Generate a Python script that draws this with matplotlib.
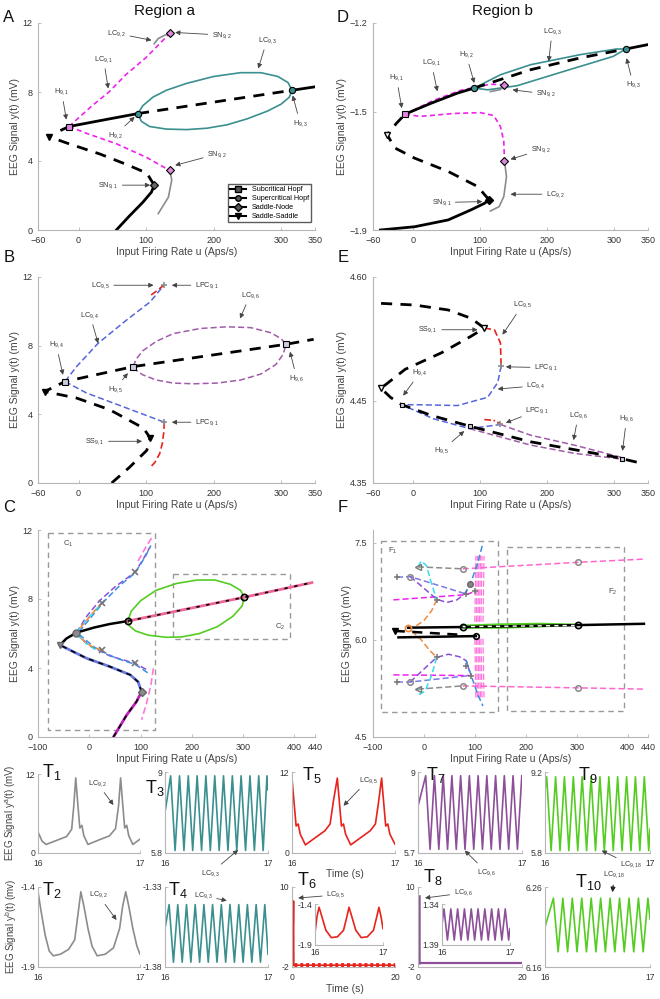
import matplotlib
matplotlib.use("Agg")
import matplotlib.pyplot as plt
from matplotlib.lines import Line2D

plt.rcParams["font.family"] = ["Liberation Sans", "DejaVu Sans"]
plt.rcParams["mathtext.fontset"] = "custom"
plt.rcParams["mathtext.rm"] = "Liberation Sans"
plt.rcParams["mathtext.it"] = "Liberation Sans:italic"

W, H = 660, 999

# ---------------- data ----------------
# Panel A (region a, y^a)
a_low_u = [56, 75, 95, 108, 112]; a_low_y = [0, 0.8, 1.6, 2.2, 2.6]
a_mid_u = [112, 101, 71, 32, -18, -43]; a_mid_y = [2.6, 3.3, 3.8, 4.4, 5.05, 5.4]
a_up_u = [-25, -14, 40, 88]; a_up_y = [5.8, 6.0, 6.4, 6.75]
a_uns_u = [88, 316]; a_uns_y = [6.75, 8.1]
a_top_u = [316, 350]; a_top_y = [8.1, 8.3]
a_lc3_u = [88, 95, 110, 130, 160, 200, 240, 270, 295, 310, 316,
           312, 300, 280, 250, 220, 190, 160, 130, 105, 93, 88]
a_lc3_y = [6.75, 7.2, 7.7, 8.1, 8.5, 8.9, 9.12, 9.12, 8.9, 8.55, 8.1,
           7.7, 7.3, 6.9, 6.45, 6.1, 5.9, 5.82, 5.85, 6.0, 6.3, 6.75]
a_lc1u_u = [-14, 0, 20, 45, 70, 100, 120, 135]; a_lc1u_y = [6.0, 6.5, 7.2, 8.0, 9.0, 10.0, 10.8, 11.4]
a_lc1l_u = [-14, 12, 56, 101, 135]; a_lc1l_y = [6.0, 5.6, 5.0, 4.2, 3.45]
a_lc2u_u = [112, 118, 128, 135]; a_lc2u_y = [10.8, 11.1, 11.3, 11.4]
a_lc2l_u = [135, 138, 133, 118]; a_lc2l_y = [3.45, 2.9, 1.9, 0.95]

# Panel D (region b, y^b)
d_low_u = [-49, 2, 52, 86, 106, 113]; d_low_y = [-1.9, -1.889, -1.866, -1.832, -1.81, -1.798]
d_mid_u = [113, 96, 52, 2, -27, -39, -25, -12]
d_mid_y = [-1.798, -1.753, -1.702, -1.657, -1.623, -1.578, -1.539, -1.508]
d_up_u = [-12, 27, 66, 91]; d_up_y = [-1.508, -1.471, -1.437, -1.42]
d_uns_u = [91, 175, 249, 317]; d_uns_y = [-1.42, -1.358, -1.318, -1.288]
d_top_u = [317, 350]; d_top_y = [-1.288, -1.273]
d_lc3_u = [91, 130, 175, 249, 303, 317, 298, 224, 155, 111, 91]
d_lc3_y = [-1.42, -1.375, -1.341, -1.307, -1.288, -1.288, -1.313, -1.364, -1.412, -1.426, -1.42]
d_lc1u_u = [-12, 30, 70, 91, 115, 136]; d_lc1u_y = [-1.508, -1.462, -1.428, -1.418, -1.407, -1.409]
d_lc1l_u = [-12, 10, 60, 100, 120, 130, 135, 136]
d_lc1l_y = [-1.508, -1.516, -1.506, -1.503, -1.513, -1.55, -1.6, -1.666]
d_lc2u_u = [115, 130, 136]; d_lc2u_y = [-1.432, -1.425, -1.409]
d_lc2l_u = [136, 139, 135, 128, 115]; d_lc2l_y = [-1.666, -1.72, -1.787, -1.821, -1.836]

# Panel B
b_eq_u = [49, 75, 101, 106, 96, 46, -3, -50, -20, 81, 307, 348]
b_eq_y = [0, 0.9, 1.9, 2.63, 3.2, 4.27, 4.95, 5.33, 5.91, 6.78, 8.08, 8.37]
b_lc4u_u = [-20, -3, 29, 71, 106, 127]; b_lc4u_y = [5.91, 6.78, 8.14, 9.49, 10.55, 11.55]
b_lc4l_u = [-20, 12, 71, 127]; b_lc4l_y = [5.91, 5.24, 4.37, 3.54]
b_lc5u_u = [127, 116, 105]; b_lc5u_y = [11.55, 11.2, 10.88]
b_lc5l_u = [127, 126, 124, 120, 113, 106]; b_lc5l_y = [3.54, 2.9, 2.3, 1.7, 1.2, 0.9]
b_lc6_u = [81, 85, 95, 115, 140, 180, 220, 255, 285, 300, 307,
           303, 292, 270, 240, 205, 170, 140, 115, 95, 84, 81]
b_lc6_y = [6.78, 7.2, 7.7, 8.25, 8.7, 9.0, 9.1, 9.05, 8.75, 8.4, 8.08,
           7.5, 6.9, 6.35, 6.0, 5.82, 5.78, 5.82, 6.0, 6.3, 6.6, 6.78]

# Panel E
e_eq_u = [-48, 2, 52, 86, 106, 86, 42, -12, -48, -34, -17, 27, 84, 175, 298, 340]
e_eq_y = [4.568, 4.566, 4.56, 4.55, 4.538, 4.528, 4.508, 4.488, 4.465, 4.454, 4.445,
          4.432, 4.419, 4.4, 4.382, 4.374]
e_lc5_u = [106, 121, 130, 131]; e_lc5_y = [4.538, 4.536, 4.52, 4.492]
e_lc4_u = [131, 126, 111, 66, 7, -17, 30, 84, 130]
e_lc4_y = [4.492, 4.472, 4.454, 4.444, 4.445, 4.445, 4.428, 4.416, 4.421]
e_lc5b_u = [106, 120, 130]; e_lc5b_y = [4.427, 4.426, 4.422]
e_lc6a_u = [130, 175, 240, 311]; e_lc6a_y = [4.421, 4.408, 4.396, 4.381]
e_lc6b_u = [84, 175, 240, 311]; e_lc6b_y = [4.416, 4.396, 4.386, 4.379]

# Panel C (overlay of both regions)
c_low_u = [47, 73, 92, 102]; c_low_y = [0, 1.28, 2.05, 2.63]
c_mid_u = [102, 95, 80, 40, -5, -35, -57]; c_mid_y = [2.63, 3.2, 3.6, 4.08, 4.56, 5.0, 5.33]
c_up_u = [-57, -45, -25, 10, 40, 75]; c_up_y = [5.33, 5.7, 6.05, 6.35, 6.55, 6.72]
c_uns_u = [75, 302, 434]; c_uns_y = [6.72, 8.1, 8.95]
c_green_u = [75, 82, 100, 130, 170, 210, 245, 275, 295, 302,
             298, 280, 250, 215, 180, 150, 115, 90, 78, 75]
c_green_y = [6.72, 7.3, 7.9, 8.5, 8.9, 9.1, 9.1, 8.85, 8.5, 8.1,
             7.6, 7.0, 6.4, 6.0, 5.8, 5.78, 5.9, 6.15, 6.45, 6.72]
c_purp_u = [-25, -5, 20, 50, 89, 105, 118, None, -25, 0, 40, 89, 112]
c_purp_y = [6.05, 7.0, 7.9, 8.7, 9.55, 10.3, 11.0, None, 6.0, 5.3, 4.7, 4.27, 3.9]
c_blue_u = [-20, 5, 30, 60, 89, 110, 120, None, -20, 10, 50, 90, 115]
c_blue_y = [6.1, 7.0, 7.9, 8.8, 9.5, 10.5, 11.1, None, 5.95, 5.2, 4.6, 4.2, 3.7]
c_mag_u = [95, 110, 125, None, 125, 120, 112, 102]
c_mag_y = [10.2, 11.0, 11.7, None, 3.98, 3.0, 2.0, 1.0]
c_cyan_u = [-25, -5, 10, 24, None, -25, -5, 10, 24]
c_cyan_y = [6.05, 6.8, 7.3, 7.75, None, 5.95, 5.4, 5.1, 5.04]
c_orng_u = [-25, -10, 10, 24, None, -25, -8, 8, 24]
c_orng_y = [6.05, 6.6, 7.3, 7.75, None, 5.95, 5.5, 5.2, 5.04]

# Panel F (zoom on y^b)
f_main_u = [-31, 76, 302, 432]; f_main_y = [6.19, 6.20, 6.23, 6.25]
f_green_u = [76, 150, 230, 302, 230, 150, 76]; f_green_y = [6.22, 6.24, 6.25, 6.235, 6.21, 6.19, 6.19]
f_ss_u = [-57, 74]; f_ss_y = [6.14, 6.08]
f_low_u = [-50, 102]; f_low_y = [6.04, 6.06]
f_gray_u = [-12, 76, None, -12, 76]; f_gray_y = [7.13, 7.10, None, 5.24, 5.29]
f_pink_u = [76, 302, 432, None, 76, 302, 432]; f_pink_y = [7.10, 7.20, 7.25, None, 5.29, 5.26, 5.24]
f_peri_u = [-53, -27, 83, None, -53, -27, 90]; f_peri_y = [6.97, 6.98, 6.71, None, 5.35, 5.35, 5.45]
f_magh_u = [-60, 83, 100, None, -60, 93]; f_magh_y = [6.62, 6.70, 6.75, None, 5.46, 5.45]
f_purp_u = [-27, 0, 25, 45, 65, 83, 93, None, -27, 0, 25, 48, 70, 83, 93]
f_purp_y = [6.98, 6.80, 6.63, 6.58, 6.62, 6.74, 6.92, None, 5.35, 5.55, 5.73, 5.78, 5.74, 5.68, 5.43]
f_cyan_u = [-12, -5, 5, 12, 25, None, 25, 15, 2, -8, -12]
f_cyan_y = [7.13, 7.22, 7.15, 6.95, 6.62, None, 5.73, 5.45, 5.21, 5.16, 5.24]
f_orng_u = [25, 15, 0, -15, -31, None, -24, -5, 10, 25]
f_orng_y = [6.62, 6.45, 6.3, 6.22, 6.19, None, 6.14, 6.0, 5.85, 5.73]
f_blue_u = [80, 95, 106, 116, None, 83, 95, 106, 116]
f_blue_y = [6.7, 6.95, 7.2, 7.5, None, 5.68, 5.4, 5.15, 4.98]
f_vert_u = [100, 103, 106, 109, 112, 116]

# Time series
t1_t = [16.00, 16.04, 16.08, 16.18, 16.28, 16.33, 16.35, 16.37, 16.39, 16.41, 16.43, 16.45, 16.49,
        16.60, 16.70, 16.76, 16.79, 16.81, 16.83, 16.85, 16.87, 16.89, 16.93, 17.00]
t1_y = [3.2, 1.8, 1.3, 1.9, 2.5, 3.6, 7.0, 11.4, 7.5, 3.8, 4.2, 2.6, 1.3,
        2.0, 2.6, 3.7, 7.2, 11.4, 7.5, 3.8, 4.2, 2.6, 1.3, 2.1]
t2_t = [16.00, 16.03, 16.07, 16.11, 16.15, 16.22, 16.30, 16.36, 16.39, 16.42, 16.45, 16.49, 16.53,
        16.58, 16.66, 16.74, 16.80, 16.83, 16.86, 16.89, 16.93, 16.97, 17.00]
t2_y = [-1.43, -1.55, -1.70, -1.80, -1.83, -1.82, -1.79, -1.73, -1.58, -1.43, -1.52, -1.66, -1.77,
        -1.83, -1.82, -1.78, -1.66, -1.52, -1.43, -1.52, -1.66, -1.77, -1.82]
t3_t = [16.0, 16.055, 16.098, 16.141, 16.184, 16.226, 16.269, 16.312, 16.355, 16.397, 16.440,
        16.483, 16.526, 16.568, 16.611, 16.654, 16.697, 16.739, 16.782, 16.825, 16.868, 16.910,
        16.953, 16.99, 17.0]
t3_y = [7.4, 8.85, 5.9, 8.85, 5.9, 8.85, 5.9, 8.85, 5.9, 8.85, 5.9, 8.85, 5.9, 8.85, 5.9, 8.85,
        5.9, 8.85, 5.9, 8.85, 5.9, 8.85, 5.9, 8.85, 8.3]
t4_t = [16.0, 16.04, 16.082, 16.124, 16.167, 16.209, 16.251, 16.293, 16.336, 16.378, 16.420,
        16.462, 16.505, 16.547, 16.589, 16.631, 16.674, 16.716, 16.758, 16.800, 16.843, 16.885,
        16.927, 16.969, 17.0]
t4_y = [-1.356, -1.341, -1.377, -1.341, -1.377, -1.341, -1.377, -1.341, -1.377, -1.341, -1.377,
        -1.341, -1.377, -1.341, -1.377, -1.341, -1.377, -1.341, -1.377, -1.341, -1.377, -1.341,
        -1.377, -1.341, -1.372]
t5_t = [16.00, 16.02, 16.04, 16.06, 16.08, 16.13, 16.22, 16.32, 16.37, 16.40, 16.44, 16.46, 16.48,
        16.50, 16.52, 16.57, 16.66, 16.76, 16.81, 16.84, 16.87, 16.89, 16.91, 16.93, 16.95, 17.00]
t5_y = [11.0, 7.5, 4.0, 4.3, 2.8, 1.2, 2.2, 3.3, 4.3, 7.5, 11.1, 7.5, 4.0,
        4.3, 2.8, 1.2, 2.2, 3.3, 4.3, 7.5, 11.1, 7.5, 4.0, 4.3, 2.8, 1.3]
t6_t = [0.25, 0.3, 0.3, 0.35, 0.4, 20.0]; t6_y = [4.5, 7.9, 7.9, -1.8, -1.72, -1.72]
t6i_t = [16.0, 16.03, 16.06, 16.10, 16.16, 16.24, 16.33, 16.42, 16.47, 16.50, 16.54, 16.60, 16.68,
         16.77, 16.86, 16.91, 16.94, 16.97, 17.0]
t6i_y = [-1.75, -1.55, -1.44, -1.55, -1.72, -1.81, -1.80, -1.72, -1.55, -1.44, -1.55, -1.72, -1.81,
         -1.80, -1.72, -1.55, -1.44, -1.55, -1.70]
t7_t = [16.0, 16.074, 16.116, 16.158, 16.200, 16.242, 16.284, 16.326, 16.368, 16.410, 16.452,
        16.494, 16.536, 16.578, 16.620, 16.662, 16.704, 16.746, 16.788, 16.830, 16.872, 16.914,
        16.956, 16.998]
t7_y = [7.6, 8.85, 5.85, 8.85, 5.85, 8.85, 5.85, 8.85, 5.85, 8.85, 5.85, 8.85, 5.85, 8.85, 5.85,
        8.85, 5.85, 8.85, 5.85, 8.85, 5.85, 8.85, 5.85, 8.85]
t8_t = [0.3, 0.3, 0.45, 20.0]; t8_y = [8.6, -1.5, -1.4, -1.4]
t8i_t = [16.0, 16.03, 16.08, 16.13, 16.18, 16.23, 16.28, 16.33, 16.38, 16.43, 16.48, 16.53, 16.58,
         16.63, 16.68, 16.73, 16.78, 16.83, 16.88, 16.93, 16.98, 17.0]
t8i_y = [-1.365, -1.346, -1.384, -1.346, -1.384, -1.346, -1.384, -1.346, -1.384, -1.346, -1.384,
         -1.346, -1.384, -1.346, -1.384, -1.346, -1.384, -1.346, -1.384, -1.346, -1.384, -1.37]
t9_t = [16.0, 16.016, 16.058, 16.101, 16.143, 16.185, 16.227, 16.270, 16.312, 16.354, 16.396,
        16.439, 16.481, 16.523, 16.565, 16.608, 16.650, 16.692, 16.734, 16.777, 16.819, 16.861,
        16.903, 16.946, 16.988, 17.0]
t9_y = [8.4, 9.0, 5.9, 9.0, 5.9, 9.0, 5.9, 9.0, 5.9, 9.0, 5.9, 9.0, 5.9, 9.0, 5.9, 9.0, 5.9, 9.0,
        5.9, 9.0, 5.9, 9.0, 5.9, 9.0, 5.9, 6.8]
t10_t = [16.0, 16.08, 16.125, 16.17, 16.215, 16.26, 16.305, 16.35, 16.395, 16.44, 16.485, 16.53,
         16.575, 16.62, 16.665, 16.71, 16.755, 16.80, 16.845, 16.89, 16.935, 16.98, 17.0]
t10_y = [6.21, 6.246, 6.179, 6.246, 6.179, 6.246, 6.179, 6.246, 6.179, 6.246, 6.179, 6.246,
         6.179, 6.246, 6.179, 6.246, 6.179, 6.246, 6.179, 6.246, 6.179, 6.246, 6.22]

MAG = "#ee22ee"; TEAL = "#3a8f8f"; GRAY = "#8c8c8c"; BLUE = "#5566dd"
PURP = "#a05ca8"; RED = "#e8221c"; GREEN = "#55cc22"; CYAN = "#33ddee"
ORNG = "#f08a3c"; VIOL = "#8a4fd8"; SBLUE = "#3a8ee0"; PINK = "#ff77dd"

fig = plt.figure(figsize=(W / 100, H / 100), dpi=100)


def ax_px(l, t, r, b):
    return fig.add_axes([l / W, 1 - b / H, (r - l) / W, (b - t) / H])


def style(ax, fs=6.5):
    for s in ("top", "right"):
        ax.spines[s].set_visible(False)
    for s in ("left", "bottom"):
        ax.spines[s].set_color("#b5b5b5"); ax.spines[s].set_linewidth(0.8)
    ax.tick_params(direction="in", length=2, width=0.6, colors="#b5b5b5",
                   labelcolor="#333333", labelsize=fs)
    ax.tick_params(axis="x", pad=4.5)
    ax.tick_params(axis="y", pad=4)


def note(ax, txt, xyt, xy, fs=5.2):
    ax.annotate(txt, xy=xy, xytext=xyt, fontsize=fs, color="#333333", ha="center", va="center",
                annotation_clip=False,
                arrowprops=dict(arrowstyle="-|>", color="#444444", lw=0.6, mutation_scale=7,
                                shrinkA=1, shrinkB=0))


def ftxt(x, y, s, **kw):
    fig.text(x / W, 1 - y / H, s, **kw)


def bif_axes(ax, xl, xt, yl, yt):
    style(ax)
    ax.set_xlim(*xl); ax.set_xticks(xt)
    ax.set_ylim(*yl); ax.set_yticks(yt)
    ax.set_xlabel("Input Firing Rate u (Aps/s)", fontsize=7.5, color="#444444", labelpad=1)
    ax.set_ylabel("EEG Signal y(t) (mV)", fontsize=7.5, color="#444444", labelpad=2)


# ---------------- Panel A ----------------
ax = ax_px(38, 23, 315, 230)
bif_axes(ax, (-60, 350), [-60, 0, 100, 200, 300, 350], (0, 12), [0, 4, 8, 12])
ax.plot(a_lc3_u, a_lc3_y, color=TEAL, lw=1.2)
ax.plot(a_lc1u_u, a_lc1u_y, color=MAG, lw=1.2, ls=(0, (3, 2)))
ax.plot(a_lc1l_u, a_lc1l_y, color=MAG, lw=1.2, ls=(0, (3, 2)))
ax.plot(a_lc2u_u, a_lc2u_y, color=GRAY, lw=1.2)
ax.plot(a_lc2l_u, a_lc2l_y, color=GRAY, lw=1.2)
ax.plot(a_low_u, a_low_y, "k-", lw=2)
ax.plot(a_mid_u, a_mid_y, "k", lw=2, ls=(0, (4, 3)))
ax.plot(a_up_u, a_up_y, "k-", lw=2)
ax.plot(a_uns_u, a_uns_y, "k", lw=2, ls=(0, (4, 3)))
ax.plot(a_top_u, a_top_y, "k-", lw=2)
ax.plot([a_up_u[1]], [a_up_y[1]], "s", ms=4, mfc="#dd88dd", mec="k", mew=0.8)
ax.plot([a_uns_u[0], a_uns_u[1]], [a_uns_y[0], a_uns_y[1]], "o", ms=4.5, mfc=TEAL, mec="k", mew=0.8)
ax.plot([a_lc1u_u[-1], a_lc1l_u[-1]], [a_lc1u_y[-1], a_lc1l_y[-1]], "D", ms=4, mfc="#dd88dd", mec="k", mew=0.8)
ax.plot([a_low_u[-1]], [a_low_y[-1]], "D", ms=4, mfc="#666666", mec="k", mew=0.8)
ax.plot([a_mid_u[-1]], [a_mid_y[-1]], "v", ms=5, mfc="k", mec="k")
note(ax, "LC$_{9,2}$", (56, 11.4), (108, 11.0))
note(ax, "SN$_{9,2}$", (212, 11.3), (143, 11.45))
note(ax, "LC$_{9,1}$", (37, 9.9), (44, 8.2))
note(ax, "LC$_{9,3}$", (279, 11.0), (266, 9.36))
note(ax, "H$_{9,1}$", (-25, 8.0), (-18, 6.4))
note(ax, "H$_{9,2}$", (54, 5.5), (83, 6.56))
note(ax, "H$_{9,3}$", (328, 6.2), (317, 7.8))
note(ax, "SN$_{9,2}$", (205, 4.4), (143, 3.75))
note(ax, "SN$_{9,1}$", (44, 2.6), (106, 2.6))
hnd = [Line2D([], [], color="k", lw=1.5, marker=m, ms=4, mfc=fc, mec="k")
       for m, fc in (("s", "#555555"), ("o", "#555555"), ("D", "#555555"), ("v", "k"))]
ax.legend(hnd, ["Subcritical Hopf", "Supercritical Hopf", "Saddle-Node", "Saddle-Saddle"],
          loc="lower right", fontsize=5.2, frameon=True, edgecolor="#333333", fancybox=False,
          handlelength=2.2, borderpad=0.3, labelspacing=0.25, bbox_to_anchor=(1.0, 0.02))

# ---------------- Panel D ----------------
ax = ax_px(373, 23, 648, 230)
bif_axes(ax, (-60, 350), [-60, 0, 100, 200, 300, 350], (-1.9, -1.2), [-1.9, -1.5, -1.2])
ax.plot(d_lc3_u, d_lc3_y, color=TEAL, lw=1.2)
ax.plot(d_lc1u_u, d_lc1u_y, color=MAG, lw=1.2, ls=(0, (3, 2)))
ax.plot(d_lc1l_u, d_lc1l_y, color=MAG, lw=1.2, ls=(0, (3, 2)))
ax.plot(d_lc2u_u, d_lc2u_y, color=GRAY, lw=1.2)
ax.plot(d_lc2l_u, d_lc2l_y, color=GRAY, lw=1.2)
ax.plot(d_low_u, d_low_y, "k-", lw=2)
ax.plot(d_mid_u, d_mid_y, "k", lw=2, ls=(0, (4, 3)))
ax.plot(d_up_u, d_up_y, "k-", lw=2)
ax.plot(d_uns_u, d_uns_y, "k", lw=2, ls=(0, (4, 3)))
ax.plot(d_top_u, d_top_y, "k-", lw=2)
ax.plot([d_up_u[0]], [d_up_y[0]], "s", ms=4, mfc="#dd88dd", mec="k", mew=0.8)
ax.plot([d_uns_u[0], d_uns_u[-1]], [d_uns_y[0], d_uns_y[-1]], "o", ms=4.5, mfc=TEAL, mec="k", mew=0.8)
ax.plot([d_lc1u_u[-1], d_lc1l_u[-1]], [d_lc1u_y[-1], d_lc1l_y[-1]], "D", ms=4, mfc="#dd88dd", mec="k", mew=0.8)
ax.plot([d_low_u[-1]], [d_low_y[-1]], "D", ms=4, mfc="k", mec="k")
ax.plot([d_mid_u[5]], [d_mid_y[5]], "v", ms=5, mfc="white", mec="k", mew=1)
note(ax, "LC$_{9,3}$", (207, -1.228), (202, -1.33))
note(ax, "H$_{9,2}$", (79, -1.307), (91, -1.403))
note(ax, "LC$_{9,1}$", (27, -1.335), (36, -1.431))
note(ax, "H$_{9,1}$", (-25, -1.386), (-17, -1.488))
note(ax, "H$_{9,3}$", (328, -1.409), (318, -1.319))
note(ax, "SN$_{9,2}$", (198, -1.44), (148, -1.426))
note(ax, "SN$_{9,2}$", (190, -1.629), (145, -1.661))
note(ax, "LC$_{9,2}$", (212, -1.779), (145, -1.779))
note(ax, "SN$_{9,1}$", (42, -1.807), (103, -1.804))

# ---------------- Panel B ----------------
ax = ax_px(38, 277, 315, 483)
bif_axes(ax, (-60, 350), [-60, 0, 100, 200, 300, 350], (0, 12), [0, 4, 8, 12])
ax.plot(b_lc6_u, b_lc6_y, color=PURP, lw=1.1, ls=(0, (4, 2)))
ax.plot(b_lc4u_u, b_lc4u_y, color=BLUE, lw=1.1, ls=(0, (4, 2)))
ax.plot(b_lc4l_u, b_lc4l_y, color=BLUE, lw=1.1, ls=(0, (4, 2)))
ax.plot(b_lc5u_u, b_lc5u_y, color=RED, lw=1.2, ls=(0, (4, 2)))
ax.plot(b_lc5l_u, b_lc5l_y, color=RED, lw=1.2, ls=(0, (4, 2)))
ax.plot(b_eq_u, b_eq_y, "k", lw=2, ls=(0, (4, 3)))
ax.plot([b_eq_u[8], b_eq_u[9], b_eq_u[10]], [b_eq_y[8], b_eq_y[9], b_eq_y[10]], "s", ms=4,
        mfc="#ccccdd", mec="k", mew=0.8)
ax.plot([b_eq_u[3]], [b_eq_y[3]], "v", ms=5, mfc="k", mec="k")
ax.plot([b_eq_u[7]], [b_eq_y[7]], "v", ms=5, mfc="k", mec="k")
ax.plot([b_lc4u_u[-1], b_lc4l_u[-1]], [b_lc4u_y[-1], b_lc4l_y[-1]], "+", ms=5, color=GRAY, mew=1.2)
note(ax, "LC$_{9,5}$", (32, 11.52), (111, 11.52))
note(ax, "LPC$_{9,1}$", (190, 11.52), (138, 11.52))
note(ax, "LC$_{9,6}$", (254, 10.94), (239, 9.58))
note(ax, "LC$_{9,4}$", (17, 9.78), (29, 8.14))
note(ax, "H$_{9,4}$", (-33, 8.04), (-23, 6.3))
note(ax, "H$_{9,5}$", (54, 5.47), (73, 6.4))
note(ax, "H$_{9,6}$", (323, 6.1), (313, 7.65))
note(ax, "LPC$_{9,1}$", (190, 3.54), (138, 3.54))
note(ax, "SS$_{9,1}$", (24, 2.43), (94, 2.43))

# ---------------- Panel E ----------------
ax = ax_px(373, 277, 648, 483)
bif_axes(ax, (-60, 350), [-60, 0, 100, 200, 300, 350], (4.35, 4.6), [4.35, 4.45, 4.6])
ax.plot(e_lc6a_u, e_lc6a_y, color=PURP, lw=1.1, ls=(0, (4, 2)))
ax.plot(e_lc6b_u, e_lc6b_y, color=PURP, lw=1.1, ls=(0, (4, 2)))
ax.plot(e_lc4_u, e_lc4_y, color=BLUE, lw=1.1, ls=(0, (4, 2)))
ax.plot(e_lc5_u, e_lc5_y, color=RED, lw=1.2, ls=(0, (4, 2)))
ax.plot(e_lc5b_u, e_lc5b_y, color=RED, lw=1.2, ls=(0, (4, 1.5, 1, 1.5)))
ax.plot(e_eq_u, e_eq_y, "k", lw=2, ls=(0, (4, 3)))
ax.plot([e_eq_u[10], e_eq_u[12], 311], [e_eq_y[10], e_eq_y[12], 4.379], "s", ms=3.5,
        mfc="#ccccdd", mec="k", mew=0.8)
ax.plot([e_eq_u[4], e_eq_u[8]], [e_eq_y[4], e_eq_y[8]], "v", ms=5, mfc="white", mec="k", mew=1)
ax.plot([e_lc5_u[-1], e_lc5b_u[-1]], [e_lc5_y[-1], e_lc5b_y[-1]], "+", ms=5, color=GRAY, mew=1.2)
note(ax, "LC$_{9,5}$", (163, 4.566), (133, 4.53))
note(ax, "SS$_{9,1}$", (22, 4.536), (96, 4.536))
note(ax, "LPC$_{9,1}$", (198, 4.49), (138, 4.491))
note(ax, "LC$_{9,4}$", (183, 4.468), (126, 4.464))
note(ax, "H$_{9,4}$", (10, 4.484), (-15, 4.456))
note(ax, "LPC$_{9,1}$", (185, 4.438), (138, 4.423))
note(ax, "LC$_{9,6}$", (246, 4.432), (239, 4.402))
note(ax, "H$_{9,6}$", (318, 4.428), (312, 4.389))
note(ax, "H$_{9,5}$", (42, 4.389), (76, 4.413))

# ---------------- Panel C ----------------
ax = ax_px(38, 530, 315, 737)
bif_axes(ax, (-100, 440), [-100, 0, 100, 200, 300, 400, 440], (0, 12), [0, 4, 8, 12])
ax.plot([-80, 128, 128, -80, -80], [11.8, 11.8, 0.4, 0.4, 11.8], color="#999999", lw=1, ls=(0, (4, 3)))
ax.plot([163, 392, 392, 163, 163], [9.43, 9.43, 5.66, 5.66, 9.43], color="#999999", lw=1, ls=(0, (4, 3)))
ax.text(-51, 11.07, "C$_1$", fontsize=5.5, color="#444444")
ax.text(362, 6.3, "C$_2$", fontsize=5.5, color="#444444")
ax.plot(c_green_u, c_green_y, color=GREEN, lw=1.2)
ax.plot(c_purp_u, c_purp_y, color=VIOL, lw=1.1, ls=(0, (4, 2)))
ax.plot(c_blue_u, c_blue_y, color=SBLUE, lw=1.1, ls=(0, (4, 2)))
ax.plot(c_mag_u, c_mag_y, color=PINK, lw=1.2, ls=(0, (4, 2)))
ax.plot(c_cyan_u, c_cyan_y, color=CYAN, lw=1.1, ls=(0, (4, 2)))
ax.plot(c_orng_u, c_orng_y, color=ORNG, lw=1.1, ls=(2, (4, 2)))
ax.plot(c_low_u, c_low_y, color="#bb22bb", lw=2)
ax.plot(c_low_u, c_low_y, "k", lw=1.2, ls=(0, (3, 3)))
ax.plot(c_mid_u, c_mid_y, color="#6677dd", lw=2)
ax.plot(c_mid_u, c_mid_y, "k", lw=1.2, ls=(0, (3, 3)))
ax.plot(c_up_u, c_up_y, "k-", lw=1.8)
ax.plot(c_uns_u, c_uns_y, color="#ee6699", lw=2)
ax.plot(c_uns_u, c_uns_y, "k", lw=1.2, ls=(0, (2, 4)))
ax.plot([c_uns_u[0], c_uns_u[1]], [c_uns_y[0], c_uns_y[1]], "o", ms=4.5, mfc="none", mec="k", mew=1.2)
ax.plot([c_low_u[-1]], [c_low_y[-1]], "D", ms=4, mfc=GRAY, mec="#666666")
ax.plot([c_mid_u[-1]], [c_mid_y[-1]], "v", ms=5, mfc=GRAY, mec="#666666")
ax.plot([c_up_u[2]], [c_up_y[2]], "o", ms=5, mfc=GRAY, mec="#666666")
ax.plot([c_purp_u[4], c_purp_u[11], c_cyan_u[3], c_cyan_u[8]],
        [c_purp_y[4], c_purp_y[11], c_cyan_y[3], c_cyan_y[8]], "x", ms=4.5, color="#777777", mew=1.2)

# ---------------- Panel F ----------------
ax = ax_px(373, 530, 648, 737)
bif_axes(ax, (-100, 440), [-100, 0, 100, 200, 300, 400, 440], (4.5, 7.7), [4.5, 6, 7.5])
ax.plot([-85, 145, 145, -85, -85], [7.53, 7.53, 4.89, 4.89, 7.53], color="#999999", lw=1, ls=(0, (4, 3)))
ax.plot([163, 393, 393, 163, 163], [7.44, 7.44, 4.9, 4.9, 7.44], color="#999999", lw=1, ls=(0, (4, 3)))
ax.text(-70, 7.34, "F$_1$", fontsize=5.5, color="#444444")
ax.text(362, 6.72, "F$_2$", fontsize=5.5, color="#444444")
for u in f_vert_u:
    ax.plot([u, u + 2], [6.28, 7.3], color=PINK, lw=0.9, ls=(0, (5, 2)))
    ax.plot([u, u + 2], [6.02, 5.1], color=PINK, lw=0.9, ls=(0, (5, 2)))
ax.plot(f_gray_u, f_gray_y, color=GRAY, lw=1.1, ls=(0, (4, 2)))
ax.plot(f_pink_u, f_pink_y, color="#ff66cc", lw=1.1, ls=(0, (4, 2)))
ax.plot(f_peri_u, f_peri_y, color="#7a7ae8", lw=1.1, ls=(0, (4, 2)))
ax.plot(f_magh_u, f_magh_y, color="#ee22ee", lw=1.1, ls=(0, (4, 2)))
ax.plot(f_purp_u, f_purp_y, color=VIOL, lw=1.1, ls=(0, (4, 2)))
ax.plot(f_cyan_u, f_cyan_y, color=CYAN, lw=1.1, ls=(0, (4, 2)))
ax.plot(f_orng_u, f_orng_y, color=ORNG, lw=1.1, ls=(0, (4, 2)))
ax.plot(f_blue_u, f_blue_y, color=SBLUE, lw=1.1, ls=(0, (4, 2)))
ax.plot(f_green_u, f_green_y, color=GREEN, lw=1.6)
ax.plot(f_main_u, f_main_y, "k-", lw=1.8)
ax.plot(f_main_u[1:3], [6.205, 6.225], color="white", lw=1.0, ls=(0, (3, 3)))
ax.plot(f_ss_u, f_ss_y, "k", lw=1.8, ls=(0, (4, 3)))
ax.plot(f_low_u, f_low_y, "k-", lw=1.8)
ax.plot(f_main_u[1:3], f_main_y[1:3], "o", ms=4.5, mfc="none", mec="k", mew=1.2)
ax.plot([f_main_u[0]], [f_main_y[0]], "o", ms=4.5, mfc="none", mec=ORNG, mew=1.2)
ax.plot([f_low_u[-1]], [f_low_y[-1]], "o", ms=4, mfc="none", mec="k", mew=1.2)
ax.plot([f_ss_u[0]], [f_ss_y[0]], "v", ms=5, mfc="k", mec="k")
ax.plot([-27, 76, 302, -27, 76, 302], [6.98, 7.10, 7.20, 5.35, 5.29, 5.26], "o", ms=4,
        mfc="none", mec="#888888", mew=1.1)
ax.plot([90], [6.86], "o", ms=4, mfc="#888888", mec="#666666")
ax.plot([-53, 25, 83, 100, -53, 25, 83, 93], [6.97, 6.62, 6.71, 6.75, 5.35, 5.73, 5.6, 5.45], "+",
        ms=5, color="#777777", mew=1.1)
ax.plot([-12, -12], [7.13, 5.24], "<", ms=4, mfc="none", mec="#777777", mew=1)


# ---------------- Time series ----------------
def ts(rect, t, y, color, xl, yl, xt, yt, lw=1.2):
    a = ax_px(*rect)
    style(a, fs=6.2)
    a.tick_params(axis="x", pad=4)
    a.tick_params(axis="y", pad=2)
    a.plot(t, y, color=color, lw=lw)
    a.set_xlim(*xl); a.set_ylim(*yl)
    a.set_xticks(xt); a.set_yticks(yt)
    a.set_yticklabels([f"{v:g}" for v in yt])
    return a


ax1 = ts((38, 774, 140, 853), t1_t, t1_y, GRAY, (16, 17), (0, 12), [16, 17], [0, 12])
note(ax1, "LC$_{9,2}$", (16.58, 10.6), (16.74, 7.3))
ax3 = ts((165, 772, 268, 853), t3_t, t3_y, TEAL, (16, 17), (5.8, 9), [16, 17], [5.8, 9])
note(ax3, "LC$_{9,3}$", (16.44, 5.0), (16.71, 5.92))
ax5 = ts((292, 772, 395, 853), t5_t, t5_y, RED, (16, 17), (0, 12), [16, 17], [0, 12])
note(ax5, "LC$_{9,5}$", (16.74, 10.8), (16.5, 7.0))
ax7 = ts((418, 772, 522, 853), t7_t, t7_y, "#8e4f9a", (16, 17), (5.7, 9), [16, 17], [5.7, 9])
note(ax7, "LC$_{9,6}$", (16.66, 4.92), (16.45, 5.8))
ax9 = ts((545, 772, 650, 853), t9_t, t9_y, GREEN, (16, 17), (5.8, 9.2), [16, 17], [5.8, 9.2])
note(ax9, "LC$_{9,18}$", (16.82, 5.3), (16.54, 5.9))

ax2 = ts((38, 887, 140, 967), t2_t, t2_y, GRAY, (16, 17), (-1.9, -1.4), [16, 17], [-1.9, -1.4])
note(ax2, "LC$_{9,2}$", (16.59, -1.45), (16.77, -1.606))
ax4 = ts((165, 887, 268, 967), t4_t, t4_y, TEAL, (16, 17), (-1.38, -1.33), [16, 17], [-1.38, -1.33])
note(ax4, "LC$_{9,3}$", (16.37, -1.3355), (16.6, -1.3385))
ax6 = ts((292, 887, 395, 967), t6_t, t6_y, RED, (0, 20), (-2, 10), [0, 20], [-2, 10])
ax6.plot(t6_t[-2:], t6_y[-2:], color=RED, lw=3.5, ls=(0, (0.6, 0.6)))
note(ax6, "LC$_{9,5}$", (8.5, 8.8), (1.2, 8.35))
ax8 = ts((418, 887, 522, 967), t8_t, t8_y, "#8e4f9a", (0, 20), (-2, 10), [0, 20], [-2, 10], lw=1.6)
note(ax8, "LC$_{9,6}$", (8.7, 9.1), (1.35, 8.35))
ax10 = ts((545, 887, 650, 967), t10_t, t10_y, GREEN, (16, 17), (6.16, 6.26), [16, 17], [6.16, 6.26])
ax10.annotate("LC$_{9,18}$", xy=(16.64, 6.25), xytext=(16.66, 6.276), annotation_clip=False,
              fontsize=5.2, color="#333333", ha="center", va="center",
              arrowprops=dict(arrowstyle="-|>", color="#222222", lw=0.8, mutation_scale=7))

ai6 = ts((315, 904, 383, 945), t6i_t, t6i_y, RED, (16, 17), (-1.9, -1.4), [16, 17], [-1.9, -1.4])
ai6.tick_params(axis="x", pad=2)
ai8 = ts((442, 904, 510, 945), t8i_t, t8i_y, "#8e4f9a", (16, 17), (-1.39, -1.34), [16, 17], [-1.39, -1.34])
ai8.tick_params(axis="x", pad=2)
ai8.set_yticklabels(["1.39", "1.34"])

# T labels
for x, y, s in ((52, 772, "T$_1$"), (155, 788, "T$_3$"), (312, 775, "T$_5$"), (436, 775, "T$_7$"),
                (588, 775, "T$_9$"), (52, 890, "T$_2$"), (178, 890, "T$_4$"), (307, 880, "T$_6$"),
                (433, 877, "T$_8$"), (588, 882, "T$_{10}$")):
    ftxt(x, y, s, fontsize=13, color="#111111", ha="center", va="center")

# panel letters, region titles, shared labels
for x, y, s in ((9, 18, "A"), (9, 258, "B"), (9, 508, "C"), (343, 18, "D"), (343, 258, "E"), (343, 508, "F")):
    ftxt(x, y, s, fontsize=12, color="#111111", ha="center", va="center")
ftxt(165, 11, "Region a", fontsize=11, ha="center", va="center", color="#111111")
ftxt(502, 11, "Region b", fontsize=11, ha="center", va="center", color="#111111")
ftxt(11, 813, "EEG Signal y$^{\\mathrm{a}}$(t) (mV)", fontsize=7, rotation=90, ha="center", va="center",
     color="#444444")
ftxt(11, 927, "EEG Signal y$^{\\mathrm{b}}$(t) (mv)", fontsize=7, rotation=90, ha="center", va="center",
     color="#444444")
ftxt(345, 874, "Time (s)", fontsize=7.5, ha="center", va="center", color="#444444")
ftxt(345, 989, "Time (s)", fontsize=7.5, ha="center", va="center", color="#444444")

fig.savefig("out.png", dpi=100)
